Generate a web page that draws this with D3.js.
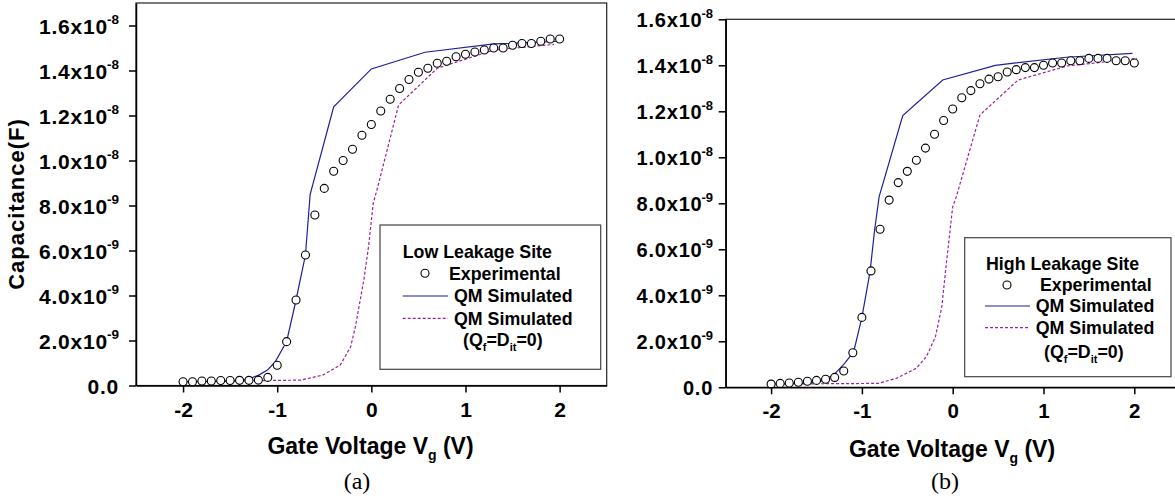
<!DOCTYPE html>
<html>
<head>
<meta charset="utf-8">
<script src="https://cdn.jsdelivr.net/npm/d3@7"></script>
<style>
  body { margin: 0; background: #fff; }
  svg { display: block; }
  text { font-family: "Liberation Sans", Arial, sans-serif; font-weight: bold; fill: #000; }
  .serif { font-family: "Liberation Serif", "Times New Roman", serif; font-weight: normal; }
</style>
</head>
<body>
<div id="chart"></div>
<script>
// capacitance values are in units of 1e-9 F

const gateVoltage = [-2.0, -1.9, -1.8, -1.7, -1.6, -1.5, -1.4, -1.3, -1.2, -1.1, -1.0,
  -0.9, -0.8, -0.7, -0.6, -0.5, -0.4, -0.3, -0.2, -0.1, 0.0,
  0.1, 0.2, 0.3, 0.4, 0.5, 0.6, 0.7, 0.8, 0.9, 1.0,
  1.1, 1.2, 1.3, 1.4, 1.5, 1.6, 1.7, 1.8, 1.9, 2.0];

// (a) low leakage site
const expLow = [0.17, 0.17, 0.2, 0.2, 0.22, 0.22, 0.23, 0.23, 0.24, 0.36, 0.9,
  1.95, 3.8, 5.8, 7.58, 8.76, 9.52, 10.0, 10.5, 11.12, 11.6,
  12.2, 12.72, 13.2, 13.6, 13.92, 14.1, 14.32, 14.41, 14.61, 14.72,
  14.82, 14.91, 15.0, 15.0, 15.12, 15.2, 15.2, 15.3, 15.4, 15.4];
const simLowV = [-2.0, -1.6, -1.4, -1.3, -1.2, -1.1, -1.02, -0.9, -0.8, -0.7, -0.65, -0.4, 0.0, 0.57, 1.3, 2.0];
const simLowC = [0.17, 0.18, 0.22, 0.3, 0.45, 0.7, 1.06, 1.95, 3.8, 5.8, 8.5, 12.39, 14.07, 14.81, 15.18, 15.3];
const idealLowV = [-2.0, -0.75, -0.51, -0.33, -0.22, -0.17, -0.08, -0.03, 0.02, 0.06, 0.29, 0.70, 1.3, 1.94];
const idealLowC = [0.17, 0.24, 0.47, 0.91, 1.72, 2.6, 4.69, 6.17, 8.1, 8.7, 12.47, 14.1, 14.91, 15.16];

// (b) high leakage site
const expHigh = [0.14, 0.17, 0.19, 0.22, 0.26, 0.3, 0.35, 0.43, 0.71, 1.5, 3.04,
  5.06, 6.87, 8.14, 8.9, 9.39, 9.87, 10.4, 11.0, 11.6, 12.1,
  12.59, 12.9, 13.2, 13.4, 13.5, 13.71, 13.81, 13.9, 13.9, 14.0,
  14.1, 14.1, 14.2, 14.2, 14.3, 14.3, 14.3, 14.2, 14.2, 14.1];
const simHighV = [-2.0, -1.6, -1.46, -1.31, -1.19, -1.09, -1.0, -0.91, -0.86, -0.81, -0.55, -0.11, 0.47, 1.25, 1.98];
const simHighC = [0.14, 0.18, 0.24, 0.54, 1.04, 1.55, 3.04, 5.03, 6.84, 8.29, 11.81, 13.36, 14.0, 14.35, 14.52];
const idealHighV = [-2.0, -0.82, -0.62, -0.40, -0.29, -0.19, -0.12, -0.07, 0.0, 0.04, 0.30, 0.72, 1.26, 2.03];
const idealHighC = [0.14, 0.17, 0.39, 0.83, 1.33, 2.2, 3.5, 5.39, 7.85, 8.29, 11.84, 13.36, 13.97, 14.3];

// axis ticks
const xTicks = [-2, -1, 0, 1, 2];
const xTickLabels = ['-2', '-1', '0', '1', '2'];
const xMinorTicks = [-2.5, -1.5, -0.5, 0.5, 1.5, 2.5];
const yTicks = [0, 2, 4, 6, 8, 10, 12, 14, 16];
const yTickMantissa = ['0.0', '2.0', '4.0', '6.0', '8.0', '1.0', '1.2', '1.4', '1.6'];
const yTickExponent = ['', '-9', '-9', '-9', '-9', '-8', '-8', '-8', '-8'];
const yMinorTicks = [1, 3, 5, 7, 9, 11, 13, 15, 17];

const BLUE = '#1f1f9c';
const PURPLE = '#a21fa2';

const svg = d3.select('#chart').append('svg')
  .attr('width', 1175)
  .attr('height', 499);

const panels = [
  {
    exp: expLow, simV: simLowV, simC: simLowC, idealV: idealLowV, idealC: idealLowC,
    site: 'Low Leakage Site', tag: '(a)',
    xRange: [136, 606.7], yRange: [385.5, 3], yTop: 17,
    tickFont: 21, tickPad: 10, supFont: 13.5, xTickFont: 21,
    xTitleX: 370.5, xTitleY: 454, tagX: 357, tagY: 489,
    yTitle: true,
    legend: { x: 380, y: 225, w: 220.7, h: 144.3, titleX: 22.7, titleY: 26.7, markX: 45, rowY: [48.3, 71, 93.3, 115],
      lineX: [22.7, 68], textX: [69, 74, 74], parenX: 83 }
  },
  {
    exp: expHigh, simV: simHighV, simC: simHighC, idealV: idealHighV, idealC: idealHighC,
    site: 'High Leakage Site', tag: '(b)',
    xRange: [725.7, 1179.7], yRange: [387.3, 19.3], yTop: 16,
    tickFont: 20, tickPad: 5.6, supFont: 13, xTickFont: 20.5,
    xTitleX: 952, xTitleY: 456.5, tagX: 945, tagY: 488.5,
    yTitle: false,
    legend: { x: 964.7, y: 237.7, w: 206.3, h: 139, titleX: 21.3, titleY: 25.6, markX: 42.3, rowY: [47.3, 68.3, 90, 114],
      lineX: [20.3, 65.3], textX: [75.3, 71, 71], parenX: 79.3 }
  }
];

panels.forEach(p => {
  const x = d3.scaleLinear().domain([-2.5, 2.5]).range(p.xRange);
  const y = d3.scaleLinear().domain([0, p.yTop]).range(p.yRange);
  const g = svg.append('g');

  // frame
  g.append('rect')
    .attr('x', p.xRange[0])
    .attr('y', p.yRange[1])
    .attr('width', p.xRange[1] - p.xRange[0])
    .attr('height', p.yRange[0] - p.yRange[1])
    .attr('fill', 'none')
    .attr('stroke', '#222')
    .attr('stroke-width', 1.2);

  const line = d3.line().x(d => x(d[0])).y(d => y(d[1]));

  g.append('path')
    .datum(d3.zip(p.idealV, p.idealC))
    .attr('d', line)
    .attr('fill', 'none')
    .attr('stroke', PURPLE)
    .attr('stroke-width', 1.2)
    .attr('stroke-dasharray', '3,2');

  g.append('path')
    .datum(d3.zip(p.simV, p.simC))
    .attr('d', line)
    .attr('fill', 'none')
    .attr('stroke', BLUE)
    .attr('stroke-width', 1.2);

  g.selectAll('circle.exp')
    .data(d3.zip(gateVoltage, p.exp))
    .enter()
    .append('circle')
    .attr('class', 'exp')
    .attr('cx', d => x(d[0]))
    .attr('cy', d => y(d[1]))
    .attr('r', 4)
    .attr('fill', '#fff')
    .attr('stroke', '#000')
    .attr('stroke-width', 1.1);

  // x axis
  const xg = g.append('g').attr('transform', `translate(0,${p.yRange[0]})`);
  xg.call(d3.axisBottom(x).tickValues(xMinorTicks).tickSize(4).tickSizeOuter(0).tickFormat(''));
  xg.call(d3.axisBottom(x).tickValues(xTicks).tickSize(7).tickSizeOuter(0).tickPadding(9.5)
    .tickFormat((d, i) => xTickLabels[i]));
  xg.attr('font-size', null).attr('font-family', null);
  xg.selectAll('text').style('font-size', p.xTickFont + 'px');

  // y axis
  const yg = g.append('g').attr('transform', `translate(${p.xRange[0]},0)`);
  yg.call(d3.axisLeft(y).tickValues(yMinorTicks.filter(v => v <= p.yTop)).tickSize(3.5).tickSizeOuter(0).tickFormat(''));
  yg.call(d3.axisLeft(y).tickValues(yTicks).tickSize(7).tickSizeOuter(0).tickPadding(p.tickPad));
  yg.attr('font-size', null).attr('font-family', null);
  yg.selectAll('.tick text').each(function (d) {
    const t = d3.select(this).text(null).attr('dy', '0.36em')
      .style('font-size', p.tickFont + 'px').style('letter-spacing', '0.8px');
    const k = yTicks.indexOf(d);
    if (yTickExponent[k]) {
      t.append('tspan').text(yTickMantissa[k] + 'x10');
      t.append('tspan').attr('dy', -9.5).attr('dx', -1).style('font-size', p.supFont + 'px')
        .style('letter-spacing', '0px').text(yTickExponent[k]);
    } else {
      t.append('tspan').text(yTickMantissa[k]);
    }
  });

  g.selectAll('.domain, .tick line').attr('stroke', '#000').attr('stroke-width', 1.5);

  // x title
  const xt = g.append('text')
    .attr('x', p.xTitleX)
    .attr('y', p.xTitleY)
    .attr('text-anchor', 'middle')
    .style('font-size', '23px');
  xt.append('tspan').text('Gate Voltage V');
  xt.append('tspan').attr('dy', 6).style('font-size', '14px').text('g');
  xt.append('tspan').attr('dy', -6).text(' (V)');

  g.append('text')
    .attr('class', 'serif')
    .attr('x', p.tagX)
    .attr('y', p.tagY)
    .attr('text-anchor', 'middle')
    .style('font-size', '24px')
    .text(p.tag);

  if (p.yTitle) {
    g.append('text')
      .attr('transform', 'translate(24,204) rotate(-90)')
      .attr('text-anchor', 'middle')
      .style('font-size', '22px')
      .style('letter-spacing', '1px')
      .text('Capacitance(F)');
  }

  // legend
  const L = p.legend;
  const lg = g.append('g').attr('transform', `translate(${L.x},${L.y})`);
  lg.append('rect')
    .attr('width', L.w)
    .attr('height', L.h)
    .attr('fill', '#fff')
    .attr('stroke', '#444')
    .attr('stroke-width', 1.2);
  const lf = 17.8;
  const base = c => c + 0.36 * lf;
  lg.append('text').attr('x', L.titleX).attr('y', base(L.titleY)).style('font-size', lf + 'px').text(p.site);
  lg.append('circle').attr('cx', L.markX).attr('cy', L.rowY[0]).attr('r', 4)
    .attr('fill', '#fff').attr('stroke', '#000').attr('stroke-width', 1.1);
  lg.append('text').attr('x', L.textX[0]).attr('y', base(L.rowY[0])).style('font-size', lf + 'px').text('Experimental');
  lg.append('line').attr('x1', L.lineX[0]).attr('x2', L.lineX[1]).attr('y1', L.rowY[1]).attr('y2', L.rowY[1])
    .attr('stroke', BLUE).attr('stroke-width', 1.2);
  lg.append('text').attr('x', L.textX[1]).attr('y', base(L.rowY[1])).style('font-size', lf + 'px').text('QM Simulated');
  lg.append('line').attr('x1', L.lineX[0]).attr('x2', L.lineX[1]).attr('y1', L.rowY[2]).attr('y2', L.rowY[2])
    .attr('stroke', PURPLE).attr('stroke-width', 1.2).attr('stroke-dasharray', '3,2');
  lg.append('text').attr('x', L.textX[2]).attr('y', base(L.rowY[2])).style('font-size', lf + 'px').text('QM Simulated');
  const pt = lg.append('text').attr('x', L.parenX).attr('y', base(L.rowY[3])).style('font-size', lf + 'px');
  pt.append('tspan').text('(Q');
  pt.append('tspan').attr('dy', 5).style('font-size', '11px').text('f');
  pt.append('tspan').attr('dy', -5).text('=D');
  pt.append('tspan').attr('dy', 5).style('font-size', '11px').text('it');
  pt.append('tspan').attr('dy', -5).text('=0)');
});
</script>
</body>
</html>
